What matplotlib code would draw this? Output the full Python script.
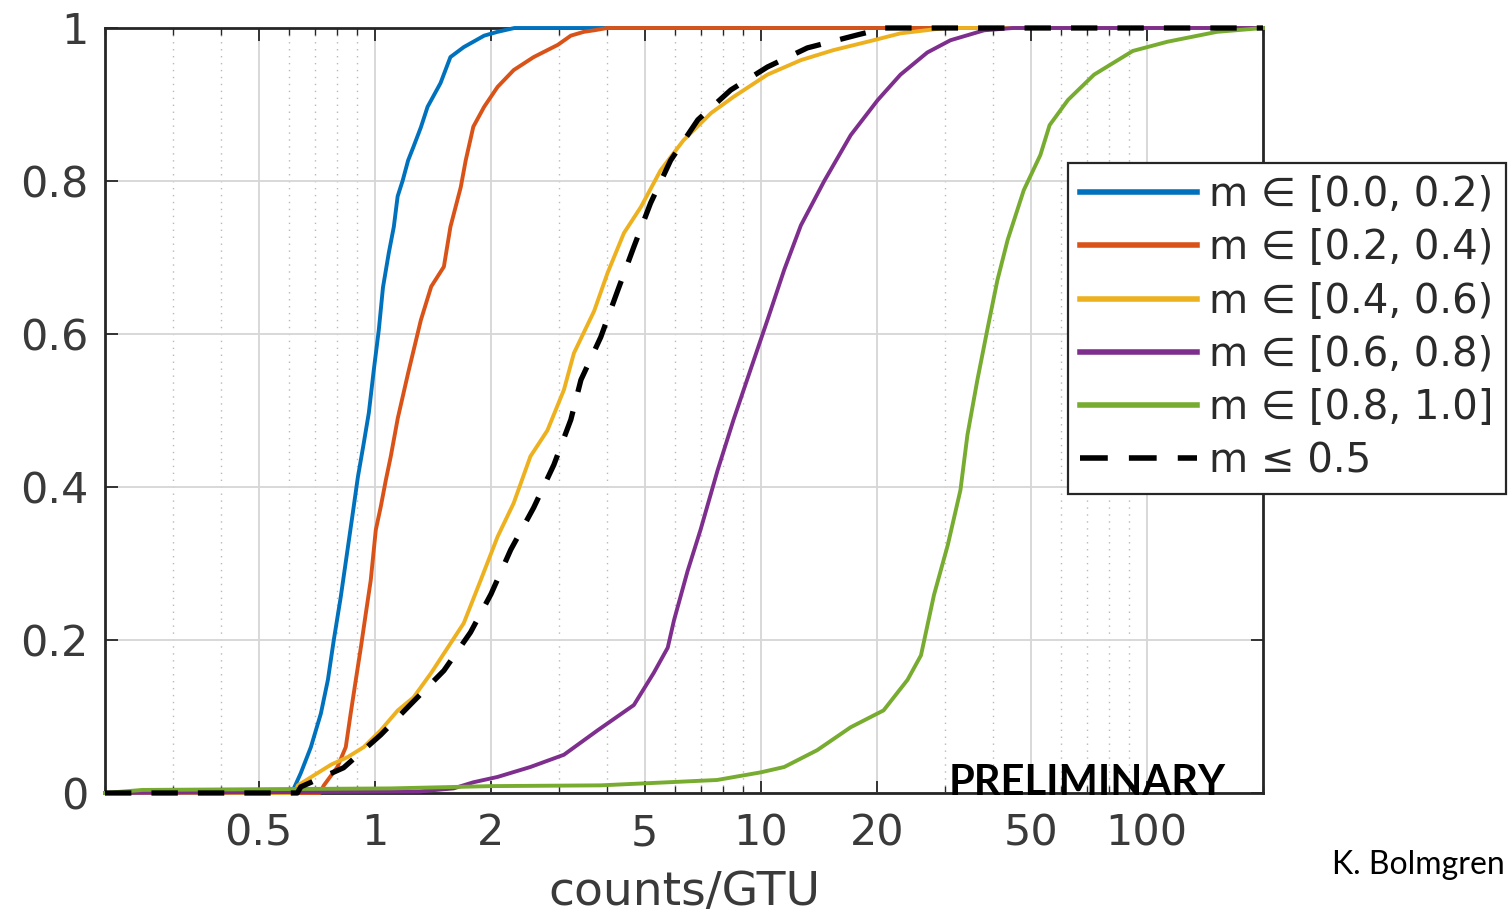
import matplotlib
matplotlib.use("Agg")
import matplotlib.pyplot as plt
from matplotlib.ticker import FixedLocator, NullFormatter, LogLocator

plt.rcParams["font.family"] = ["DejaVu Sans"]

# ---- data ----
blue_x = [0.2, 0.60, 0.617, 0.643, 0.683, 0.725, 0.756, 0.783, 0.816, 0.851, 0.877, 0.904, 0.936,
          0.965, 0.994, 1.024, 1.05, 1.087, 1.12, 1.146, 1.18, 1.22, 1.26, 1.316, 1.37, 1.48,
          1.57, 1.70, 1.92, 2.08, 2.3, 200]
blue_y = [0.0, 0.0, 0.006, 0.026, 0.06, 0.104, 0.148, 0.20, 0.256, 0.32, 0.366, 0.413, 0.457,
          0.497, 0.553, 0.605, 0.661, 0.706, 0.74, 0.78, 0.80, 0.827, 0.845, 0.87, 0.897, 0.928,
          0.962, 0.975, 0.99, 0.995, 1.0, 1.0]

red_x = [0.2, 0.72, 0.738, 0.80, 0.841, 0.866, 0.893, 0.92, 0.948, 0.976, 1.006, 1.036, 1.068,
         1.10, 1.147, 1.22, 1.316, 1.40, 1.51, 1.57, 1.67, 1.72, 1.80, 1.92, 2.08, 2.29, 2.58,
         2.98, 3.22, 3.48, 3.7, 4.0, 200]
red_y = [0.0, 0.0, 0.01, 0.034, 0.06, 0.104, 0.148, 0.19, 0.235, 0.278, 0.344, 0.374, 0.409,
         0.44, 0.49, 0.549, 0.618, 0.662, 0.688, 0.74, 0.792, 0.827, 0.871, 0.897, 0.923, 0.945,
         0.962, 0.978, 0.99, 0.995, 0.997, 1.0, 1.0]

yellow_x = [0.2, 0.62, 0.632, 0.695, 0.77, 0.851, 0.936, 1.036, 1.147, 1.26, 1.40, 1.545, 1.70,
            1.88, 2.08, 2.29, 2.53, 2.80, 3.09, 3.28, 3.70, 4.01, 4.42, 4.89, 5.5, 6.3, 7.44,
            8.5, 10.4, 12.7, 15.4, 19.6, 23.0, 30.0, 200]
yellow_y = [0.0, 0.0, 0.01, 0.023, 0.037, 0.047, 0.06, 0.082, 0.108, 0.125, 0.157, 0.19, 0.222,
            0.278, 0.335, 0.379, 0.44, 0.474, 0.527, 0.575, 0.63, 0.68, 0.732, 0.766, 0.814,
            0.853, 0.889, 0.91, 0.939, 0.958, 0.971, 0.984, 0.993, 1.0, 1.0]

purple_x = [0.2, 1.3, 1.6, 1.80, 2.08, 2.53, 3.09, 3.78, 4.69, 5.28, 5.74, 5.96, 6.46, 6.98, 7.73,
            8.5, 9.4, 10.4, 11.5, 12.7, 14.6, 17.1, 20.1, 23.0, 27.0, 31.0, 37.9, 45.0, 200]
purple_y = [0.0, 0.002, 0.006, 0.014, 0.021, 0.034, 0.05, 0.082, 0.115, 0.157, 0.19, 0.226, 0.29,
            0.344, 0.422, 0.488, 0.553, 0.618, 0.684, 0.742, 0.80, 0.86, 0.906, 0.939, 0.968,
            0.984, 0.997, 1.0, 1.0]

green_x = [0.2, 0.25, 1.1, 2.0, 3.85, 5.74, 7.7, 10.0, 11.5, 14.0, 17.1, 20.8, 24.0, 26.0, 28.1,
           30.5, 32.9, 34.3, 36.4, 38.6, 41.0, 43.6, 48.0, 53.0, 56.0, 62.5, 73.0, 92.0, 113.0,
           152.0, 200]
green_y = [0.0, 0.004, 0.006, 0.009, 0.01, 0.014, 0.017, 0.027, 0.034, 0.056, 0.086, 0.108, 0.148,
           0.18, 0.259, 0.324, 0.396, 0.468, 0.54, 0.605, 0.67, 0.723, 0.788, 0.834, 0.873,
           0.906, 0.939, 0.97, 0.982, 0.995, 1.0]

black_x = [0.2, 0.63, 0.643, 0.83, 1.036, 1.25, 1.51, 1.77, 2.0, 2.25, 2.58, 2.91, 3.22, 3.42,
           3.85, 4.26, 4.69, 5.18, 5.84, 6.87, 8.36, 10.4, 13.2, 17.8, 21.0, 200]
black_y = [0.0, 0.0, 0.008, 0.033, 0.076, 0.118, 0.16, 0.21, 0.26, 0.318, 0.373, 0.429, 0.488,
           0.54, 0.596, 0.657, 0.714, 0.771, 0.827, 0.88, 0.919, 0.949, 0.974, 0.991, 1.0, 1.0]

labels = ["m \u2208 [0.0, 0.2)", "m \u2208 [0.2, 0.4)", "m \u2208 [0.4, 0.6)",
          "m \u2208 [0.6, 0.8)", "m \u2208 [0.8, 1.0]", "m \u2264 0.5"]
colors = ["#0072BD", "#D95319", "#EDB120", "#7E2F8E", "#77AC30"]

xticks = [0.5, 1, 2, 5, 10, 20, 50, 100]
xticklabels = ["0.5", "1", "2", "5", "10", "20", "50", "100"]
yticks = [0, 0.2, 0.4, 0.6, 0.8, 1]
yticklabels = ["0", "0.2", "0.4", "0.6", "0.8", "1"]

# ---- figure ----
W, H = 1511, 914
fig = plt.figure(figsize=(W / 100, H / 100), dpi=100)
ax = fig.add_axes([105 / W, 1 - 793 / H, (1263 - 105) / W, (793 - 28) / H])

series = [(blue_x, blue_y), (red_x, red_y), (yellow_x, yellow_y),
          (purple_x, purple_y), (green_x, green_y)]
handles = []
for (xs, ys), c, lab in zip(series, colors, labels[:5]):
    h, = ax.plot(xs, ys, color=c, lw=2.8, label=lab, clip_on=False, zorder=3)
    handles.append(h)
hb, = ax.plot(black_x, black_y, color="black", lw=3.8, ls=(0, (5.0, 3.8)), label=labels[5],
              clip_on=False, zorder=3)
handles.append(hb)

ax.set_xscale("log")
ax.set_xlim(0.2, 200)
ax.set_ylim(0, 1)

tc = "#262626"
ax.xaxis.set_major_locator(FixedLocator(xticks))
ax.set_xticklabels(xticklabels)
ax.xaxis.set_minor_locator(LogLocator(base=10, subs=range(1, 10)))
ax.xaxis.set_minor_formatter(NullFormatter())
ax.set_yticks(yticks)
ax.set_yticklabels(yticklabels)

ax.tick_params(which="both", direction="in", top=True, right=True, colors=tc)
ax.tick_params(which="major", length=9, width=1.3, labelsize=31)
ax.tick_params(which="minor", length=5, width=1.0)
ax.tick_params(axis="x", pad=14)
ax.tick_params(axis="y", pad=12)
for lab in ax.get_xticklabels() + ax.get_yticklabels():
    lab.set_color("#3a3a3a")

ax.grid(True, which="major", color="#d6d6d6", lw=1.3, ls="-")
ax.grid(True, which="minor", axis="x", color="#b8b8b8", lw=1.0, ls=(0, (1, 4)))
ax.set_axisbelow(True)
for s in ax.spines.values():
    s.set_color(tc)
    s.set_linewidth(2.0)

ax.set_xlabel("counts/GTU", fontsize=34, color="#3a3a3a", labelpad=11)

leg = fig.legend(handles=handles, labels=labels, loc="upper left",
                 bbox_to_anchor=(1068 / W, 1 - 163 / H), bbox_transform=fig.transFigure,
                 fontsize=29, frameon=True, fancybox=False, framealpha=1,
                 edgecolor="#262626", handlelength=2.9, handletextpad=0.3,
                 borderpad=0.3, labelspacing=0.33, borderaxespad=0)
leg.set_zorder(5)
leg.get_frame().set_linewidth(1.6)
for t in leg.get_texts():
    t.set_color("#2a2a2a")
for lh in leg.get_lines():
    lh.set_linewidth(4.0)

fig.text(1087 / W, 1 - 795 / H, "PRELIMINARY", ha="center", va="baseline",
         fontsize=30, fontweight="bold", family=["Lato", "DejaVu Sans"], color="black",
         zorder=6)
fig.text(1505 / W, 1 - 865 / H, "K. Bolmgren", ha="right", va="center",
         fontsize=23, family=["Lato", "DejaVu Sans"], color="black")

fig.savefig("out.png", dpi=100)
